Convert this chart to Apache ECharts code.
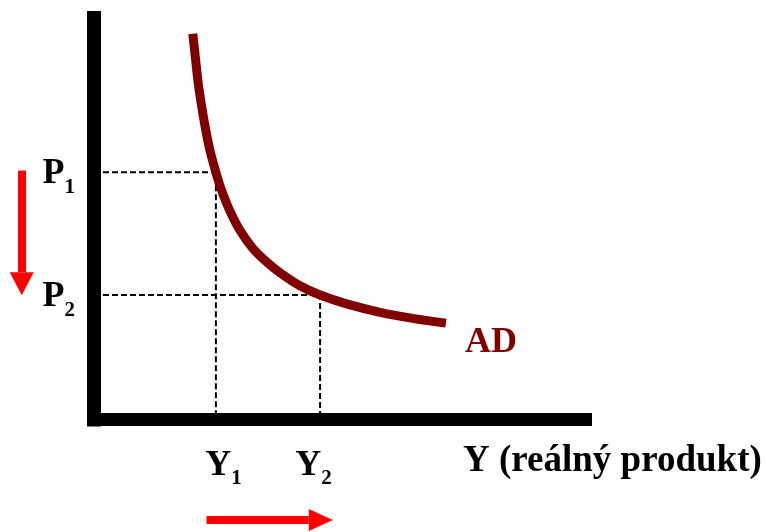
<!DOCTYPE html>
<html>
<head>
<meta charset="utf-8">
<script src="https://cdn.jsdelivr.net/npm/echarts@6/dist/echarts.min.js"></script>
<style>
html,body{margin:0;padding:0;background:#fff;}
#chart{width:767px;height:532px;}
</style>
</head>
<body>
<div id="chart"></div>
<script>
// AD curve (Y = real output, P = price level), in chart units
const curveY = [20.1, 20.6, 21.2, 21.9, 22.6, 23.6, 24.8, 26.0, 27.7, 29.7, 32.4, 35.0, 37.8, 41.9, 46.0, 51.4, 58.2, 64.8, 71.6];
const curveP = [96.1, 90.5, 83.8, 78.0, 73.0, 67.0, 61.6, 56.9, 51.8, 47.1, 42.5, 39.4, 36.6, 33.3, 31.0, 28.8, 26.7, 25.2, 24.0];
// equilibrium points
const yTicks = [24.8, 46.0];
const pTicks = [61.6, 31.0];
const tickIndexLabels = ['1', '2'];
// arrows (price falls, output rises)
const priceArrowX = -14.7;
const priceArrowFrom = 62.0;
const priceArrowTo = 36.7;
const outputArrowP = -25.0;
const outputArrowFrom = 22.9;
const outputArrowTo = 43.7;

const serif = '"Liberation Serif", "Times New Roman", serif';
const FS = 36, SUB = 21;

function subLabel(letter, ticks) {
  return function (v) {
    let i = ticks.findIndex(t => Math.abs(t - v) < 1e-6);
    if (i < 0) return '';
    return '{m' + i + '|' + letter + '}{s' + i + '|' + tickIndexLabels[i] + '}';
  };
}
const mBase = {fontFamily: serif, fontWeight: 'bold', fontSize: FS, color: '#000', lineHeight: 40, verticalAlign: 'bottom'};
const sBase = {fontFamily: serif, fontWeight: 'bold', fontSize: SUB, color: '#000', lineHeight: 22, verticalAlign: 'bottom'};
const richP = {
  m0: mBase, m1: mBase,
  s0: Object.assign({}, sBase, {padding: [0, 0, -6, 0]}),
  s1: Object.assign({}, sBase, {padding: [0, 0, -6, 0]})
};
const richY = {
  m0: Object.assign({}, mBase, {padding: [0, 0, 0, 15]}),
  m1: mBase,
  s0: Object.assign({}, sBase, {padding: [0, 0, -6, 0]}),
  s1: Object.assign({}, sBase, {padding: [0, 13, -6, 0]})
};

const chart = echarts.init(document.getElementById('chart'));
chart.setOption({
  animation: false,
  backgroundColor: '#fff',
  title: {
    text: 'Y (reálný produkt)',
    left: 463, top: 443,
    padding: 0,
    textStyle: {fontFamily: serif, fontWeight: 'bold', fontSize: 37, color: '#000'}
  },
  grid: {left: 94, right: 181.5, top: 18, bottom: 112.5},
  xAxis: {
    type: 'value', min: 0, max: 100,
    axisLine: {show: true, onZero: false, lineStyle: {color: '#000', width: 13, cap: 'square'}},
    axisTick: {show: false},
    splitLine: {show: false},
    axisLabel: {
      customValues: yTicks,
      formatter: subLabel('Y', yTicks),
      margin: 24,
      rich: richY
    }
  },
  yAxis: {
    type: 'value', min: 0, max: 100,
    axisLine: {show: true, onZero: false, lineStyle: {color: '#000', width: 14, cap: 'square'}},
    axisTick: {show: false},
    splitLine: {show: false},
    axisLabel: {
      customValues: pTicks,
      formatter: subLabel('P', pTicks),
      margin: 19,
      rich: richP
    }
  },
  series: [
    {
      type: 'line', name: 'P1 guide', symbol: 'none', z: 1,
      data: [[0, pTicks[0]], [yTicks[0], pTicks[0]], [yTicks[0], 0]],
      lineStyle: {color: '#000', width: 2, type: [6, 3]}
    },
    {
      type: 'line', name: 'P2 guide', symbol: 'none', z: 1,
      data: [[0, pTicks[1]], [yTicks[1], pTicks[1]], [yTicks[1], 0]],
      lineStyle: {color: '#000', width: 2, type: [6, 3]}
    },
    {
      type: 'line', name: 'AD', symbol: 'none', z: 3,
      smooth: 0.4,
      data: curveY.map((y, i) => [y, curveP[i]]),
      lineStyle: {color: '#800000', width: 9, cap: 'butt'},
      endLabel: {
        show: true, formatter: 'AD',
        offset: [11, 20],
        fontFamily: serif, fontWeight: 'bold', fontSize: 36, color: '#800000'
      }
    },
    {
      type: 'lines', name: 'arrow shafts', coordinateSystem: 'cartesian2d', clip: false,
      polyline: false,
      data: [
        {coords: [[priceArrowX, priceArrowFrom], [priceArrowX, priceArrowTo]]},
        {coords: [[outputArrowFrom, outputArrowP], [outputArrowTo, outputArrowP]]}
      ],
      lineStyle: {color: '#ff0000', width: 8, cap: 'butt', opacity: 1, curveness: 0}
    },
    {
      type: 'scatter', name: 'price arrow head', clip: false,
      data: [[priceArrowX, priceArrowTo]],
      symbol: 'triangle', symbolRotate: 180, symbolSize: [24, 23], symbolOffset: [0, 11.5],
      itemStyle: {color: '#ff0000', opacity: 1}
    },
    {
      type: 'scatter', name: 'output arrow head', clip: false,
      data: [[outputArrowTo, outputArrowP]],
      symbol: 'triangle', symbolRotate: -90, symbolSize: [22, 24], symbolOffset: [12, 0],
      itemStyle: {color: '#ff0000', opacity: 1}
    }
  ]
});
</script>
</body>
</html>
